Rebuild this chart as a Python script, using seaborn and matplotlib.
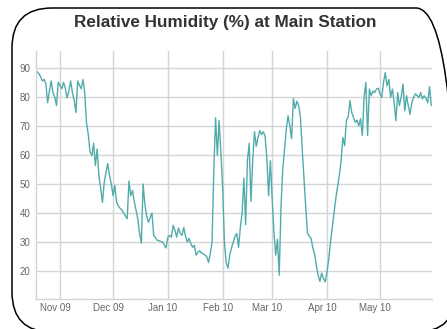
import pandas as pd
import numpy as np
import matplotlib
matplotlib.use("Agg")
import matplotlib.pyplot as plt
import matplotlib.dates as mdates
import matplotlib.transforms as mtransforms
from matplotlib.patches import FancyBboxPatch
import seaborn as sns

# daily relative humidity
start_date = "2009-10-19"
rh_oct = [88.7, 88, 87, 85.5, 86, 84.5, 78, 82, 85.5, 81.4, 80, 77, 85]
rh_nov = [84, 82.8, 85, 83, 79.7, 82, 85.5, 81.4, 79, 74.6,
          85.5, 84, 82.8, 86, 81.4, 71, 67, 61, 59.8, 64,
          56.4, 62, 53, 48.5, 43.7, 50.5, 54, 57, 53, 50]
rh_dec = [46, 49.5, 43.7, 42.5, 41.6, 41, 40, 39, 38, 51,
          46, 47.8, 44, 41, 38, 33, 29.6, 50, 43, 39,
          36.8, 38.5, 40, 32.3, 31.5, 30.6, 30.5, 30.2, 30, 29, 28]
rh_jan = [31.7, 32.3, 31.7, 35.8, 34, 31.7, 34.8, 33, 32.3, 35,
          32, 30, 31.3, 29.5, 28.2, 28.9, 25.5, 26.5, 27, 26.2,
          26, 25.5, 25, 23, 26, 30, 55, 72.8, 59.8, 71.8, 60.8]
rh_feb = [48.5, 30, 23, 21, 25.5, 28, 30, 32, 33, 28.2,
          35, 40, 52, 36, 58, 64, 44, 58, 68, 63,
          66, 68.4, 67, 68, 66.5, 58.8, 46, 58]
rh_mar = [45, 33.5, 25.5, 31, 18.6, 42, 55, 62, 69, 73.5,
          70, 65.6, 79.4, 76, 78.5, 77, 73, 62, 52, 42,
          33, 32, 31.3, 28, 26, 22, 18.6, 16.5, 19.3, 17.5, 16.3]
rh_apr = [19.7, 24, 30, 35, 40.3, 45, 49, 53, 58, 66,
          63.2, 72, 73, 78.7, 74.7, 73, 71.2, 72, 70, 72.5,
          66.7, 80, 85, 66.7, 82.7, 80.4, 82, 81.5, 82.7, 83]
rh_may = [81, 79.8, 85, 88.4, 83.8, 86, 79.8, 82.7, 78, 71.8,
          81.5, 77, 80, 84.4, 75.2, 80.4, 77, 74, 78, 79.8,
          81, 80.5, 79.8, 81.5, 79.3, 80.4, 79.5, 78, 83.5, 77]

rh = rh_oct + rh_nov + rh_dec + rh_jan + rh_feb + rh_mar + rh_apr + rh_may
dates = pd.date_range(start_date, periods=len(rh), freq="D")
df = pd.DataFrame({"date": dates, "rh": rh})

y_ticks = [20, 30, 40, 50, 60, 70, 80, 90]
title = "Relative Humidity (%) at Main Station"

sns.set_style("whitegrid")
plt.rcParams["font.family"] = ["Liberation Sans", "DejaVu Sans"]

fig = plt.figure(figsize=(4.47, 3.29), dpi=100)
ax = fig.add_axes([36 / 447, 1 - 299 / 329, (432 - 36) / 447, (299 - 51) / 329])

sns.lineplot(data=df, x="date", y="rh", color="#52abab", linewidth=1.0, ax=ax)

ax.set_xlim(pd.Timestamp("2009-10-18 10:00"), pd.Timestamp("2010-05-30 10:00"))
ax.set_ylim(10.4, 95.8)
ax.set_yticks(y_ticks)
ax.xaxis.set_major_locator(mdates.MonthLocator())
ax.xaxis.set_major_formatter(mdates.DateFormatter("%b %y"))
ax.set_xlabel("")
ax.set_ylabel("")
ax.grid(True, color="#d4d4d4", linewidth=1.0)
for s in ax.spines.values():
    s.set_color("#d4d4d4")
    s.set_linewidth(1.0)
ax.spines["top"].set_visible(False)
ax.spines["right"].set_visible(False)
ax.tick_params(axis="both", length=0, labelsize=7, labelcolor="#666666", pad=4)
ax.tick_params(axis="x", pad=3)

shift = mtransforms.ScaledTranslation(-5 / 100, 0, fig.dpi_scale_trans)
for lab in ax.get_xticklabels():
    lab.set_transform(lab.get_transform() + shift)

fig.text(225 / 447, 1 - 22 / 329, title, ha="center", va="center",
         fontsize=12.3, fontweight="bold", color="#333333")

# rounded frame around the chart (in inches so the corners stay round)
box = FancyBboxPatch((0.12, -0.03), 4.44, 3.24,
                     boxstyle="round,pad=0,rounding_size=0.4",
                     transform=fig.dpi_scale_trans, fill=False,
                     edgecolor="black", linewidth=1.1, clip_on=False)
fig.patches.append(box)

fig.savefig("out.png", dpi=100)
